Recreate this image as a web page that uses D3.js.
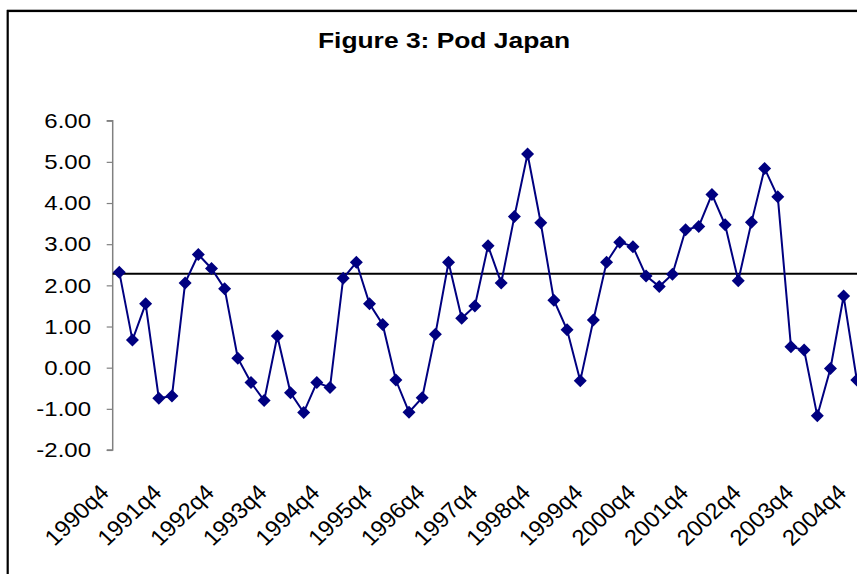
<html>
<head>
<meta charset="utf-8">
<title>Figure 3: Pod Japan</title>
<style>
  body { margin: 0; background: #fff; }
  text { font-family: "Liberation Sans", Arial, sans-serif; fill: #000; }
</style>
</head>
<body>
<svg id="chart" width="857" height="574"></svg>
<script src="https://cdnjs.cloudflare.com/ajax/libs/d3/7.8.5/d3.min.js"></script>
<script>
// quarters 1990q4 .. 2004q4
var quarters = [];
for (var yr = 1990; yr <= 2004; yr++) {
  var qs = yr == 1990 ? [4] : [1, 2, 3, 4];
  qs.forEach(function (q) { quarters.push(yr + "q" + q); });
}

var podValues = [
  2.32, 0.67, 1.55, -0.74, -0.69, 2.06, 2.75, 2.41, 1.92, 0.23,
  -0.36, -0.80, 0.77, -0.61, -1.09, -0.36, -0.48, 2.17, 2.56, 1.55,
  1.05, -0.30, -1.08, -0.73, 0.81, 2.56, 1.20, 1.50, 2.96, 2.06,
  3.67, 5.19, 3.52, 1.64, 0.92, -0.32, 1.16, 2.56, 3.05, 2.94,
  2.23, 1.97, 2.27, 3.35, 3.43, 4.21, 3.47, 2.11, 3.53, 4.84,
  4.15, 0.51, 0.43, -1.17, -0.02, 1.74, -0.30
];

var meanValue = 2.28;

var xTickLabels = ["1990q4", "1991q4", "1992q4", "1993q4", "1994q4", "1995q4", "1996q4",
  "1997q4", "1998q4", "1999q4", "2000q4", "2001q4", "2002q4", "2003q4", "2004q4"];

var yTicks = [-2, -1, 0, 1, 2, 3, 4, 5, 6];

var svg = d3.select("#chart");
var stretch = 1.2;   // the reference text is a bit wide

var plotLeft = 112.7,
    step = 13.17,
    plotRight = plotLeft + quarters.length * step,
    plotTop = 120.7,
    plotBottom = 450;

var x = d3.scalePoint().domain(quarters).range([plotLeft, plotRight]).padding(0.5);
var y = d3.scaleLinear().domain([-2, 6]).range([plotBottom, plotTop]);

// frame of the chart area
svg.append("line").attr("x1", 7).attr("x2", 857).attr("y1", 9.5).attr("y2", 9.5)
  .attr("stroke", "#c8c8c8").attr("stroke-width", 1);
svg.append("rect").attr("x", 7.7).attr("y", 11).attr("width", 900).attr("height", 600)
  .attr("fill", "#fff").attr("stroke", "#000").attr("stroke-width", 2.2);

// title
svg.append("text")
  .attr("transform", "translate(444,48) scale(" + stretch + ",1)")
  .attr("text-anchor", "middle")
  .style("font-size", "22px").style("font-weight", "bold")
  .text("Figure 3: Pod Japan");

// y axis
var yAxis = svg.append("g").attr("transform", "translate(" + plotLeft + ",0)")
  .call(d3.axisLeft(y).tickValues(yTicks).tickSize(6).tickPadding(0).tickFormat(""));
yAxis.select(".domain").attr("stroke", "#808080").attr("stroke-width", 1.5)
  .attr("d", "M-6," + y(6) + "H0V" + y(-2) + "H-6");
yAxis.selectAll(".tick line").attr("stroke", "#808080").attr("stroke-width", 1.2);

svg.append("g").selectAll("text").data(yTicks).enter().append("text")
  .attr("transform", function (d) { return "translate(91," + y(d) + ") scale(" + stretch + ",1)"; })
  .attr("text-anchor", "end")
  .attr("dy", "0.36em")
  .style("font-size", "20px")
  .text(function (d) { return d3.format(".2f")(d).replace("\u2212", "-"); });

// horizontal line at the mean
svg.append("line")
  .attr("x1", plotLeft).attr("x2", plotRight)
  .attr("y1", y(meanValue)).attr("y2", y(meanValue))
  .attr("stroke", "#000").attr("stroke-width", 2);

// category labels
svg.append("g").selectAll("text").data(xTickLabels).enter().append("text")
  .attr("transform", function (d) {
    return "translate(" + (x(d) - 9) + ",494) scale(1.05,1) rotate(-45)";
  })
  .attr("text-anchor", "end")
  .style("font-size", "22.5px")
  .text(function (d) { return d; });

// series
var line = d3.line()
  .x(function (d, i) { return x(quarters[i]); })
  .y(function (d) { return y(d); });

svg.append("path").datum(podValues)
  .attr("d", line)
  .attr("fill", "none")
  .attr("stroke", "#000080")
  .attr("stroke-width", 2);

var r = 6.5;
svg.append("g").selectAll("path").data(podValues).enter().append("path")
  .attr("transform", function (d, i) { return "translate(" + x(quarters[i]) + "," + y(d) + ")"; })
  .attr("d", "M0," + (-r) + "L" + r + ",0L0," + r + "L" + (-r) + ",0Z")
  .attr("fill", "#000080");
</script>
</body>
</html>
